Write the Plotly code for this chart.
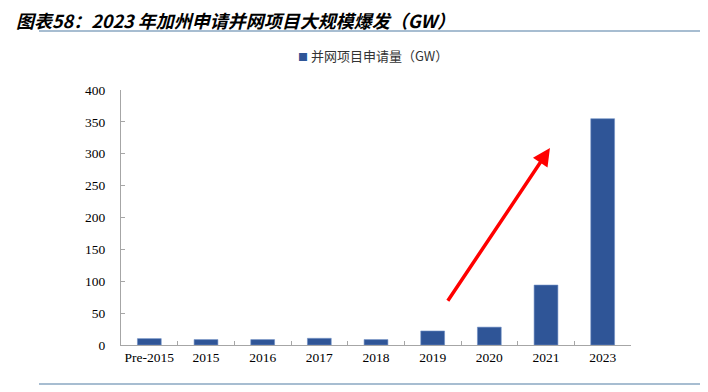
import plotly.graph_objects as go

categories = ["Pre-2015", "2015", "2016", "2017", "2018", "2019", "2020", "2021", "2023"]
values = [10, 8.5, 8.5, 10.5, 8.5, 22, 28, 94, 355]
series_name = "并网项目申请量（GW）"
title_text = "图表58：2023 年加州申请并网项目大规模爆发（GW）"
y_ticks = [0, 50, 100, 150, 200, 250, 300, 350, 400]

BAR_COLOR = "#2F5597"

fig = go.Figure()
fig.add_trace(go.Bar(
    x=categories, y=values, name=series_name,
    marker=dict(color=BAR_COLOR, line=dict(color="#6F8FC4", width=0.6)),
    width=0.42, showlegend=False,
))

serif = "Liberation Serif, Times New Roman, serif"
cjk = "Noto Sans CJK SC"

# page body has an 8px margin; work in page coordinates minus 8
OFF = 8
L, R, T, B = 121, 631, 90, 345   # plot area in page pixels
PW, PH = R - L, B - T

def px(x):
    return (x - L) / PW

def py(y):
    return (B - y) / PH

fig.update_layout(
    width=708 - OFF, height=392 - OFF,
    margin=dict(l=L - OFF, r=708 - R, t=T - OFF, b=392 - B),
    plot_bgcolor="white", paper_bgcolor="white",
    showlegend=False,
)
fig.update_yaxes(
    range=[0, 400], tickvals=y_ticks, showgrid=False, zeroline=False,
    showline=True, linecolor="#A6A6A6", linewidth=1,
    ticks="inside", ticklen=4, tickcolor="#A6A6A6",
    tickfont=dict(family=serif, size=13.5, color="black"),
    ticklabelstandoff=12, automargin=False,
)
fig.update_xaxes(
    showline=True, linecolor="#A6A6A6", linewidth=1,
    ticks="inside", ticklen=4, tickcolor="#A6A6A6", tickson="boundaries",
    tickfont=dict(family=serif, size=13.5, color="black"),
    tickangle=0, automargin=False,
    showgrid=False,
)

# title
fig.add_annotation(
    text="<b><i>" + title_text + "</i></b>", xref="paper", yref="paper",
    x=px(15), y=py(20), xanchor="left", yanchor="middle", borderpad=0,
    showarrow=False, font=dict(family=cjk, size=18, color="black"),
)
# legend (manual)
fig.add_annotation(
    text='<span style="color:%s;font-size:10px">■</span> %s' % (BAR_COLOR, series_name),
    xref="paper", yref="paper", x=px(296), y=py(55), xanchor="left", yanchor="middle",
    showarrow=False, font=dict(family=cjk, size=13, color="#333333"),
)
# separator lines
for yy in [py(31), py(384)]:
    fig.add_shape(type="line", xref="paper", yref="paper",
                  x0=px(39), x1=px(712), y0=yy, y1=yy,
                  line=dict(color="#A7BDD1", width=2))

# red arrow
fig.add_annotation(
    x=7.07, y=309, ax=5.25, ay=67, xref="x", yref="y", axref="x", ayref="y",
    showarrow=True, arrowhead=2, arrowsize=1, arrowwidth=3.5, arrowcolor="#FF0000",
    text="",
)

fig.write_html("out.html")
